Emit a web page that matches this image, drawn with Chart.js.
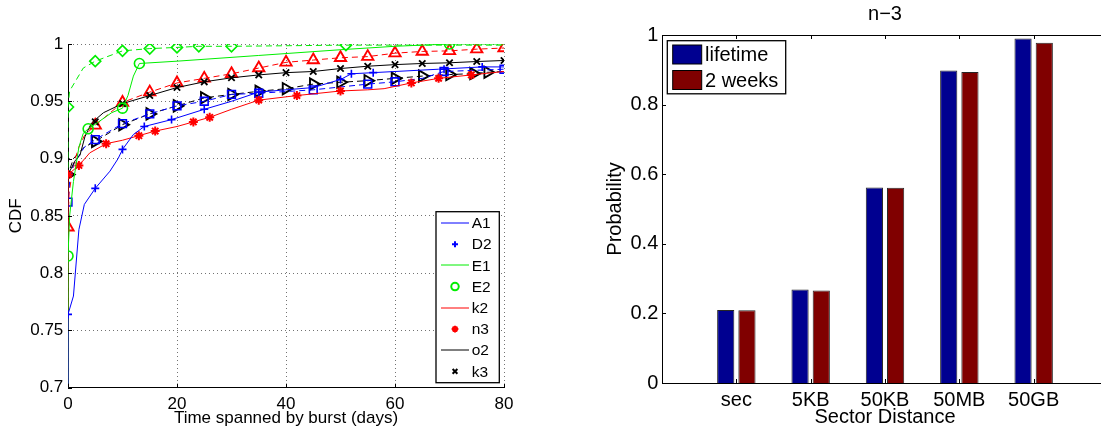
<!DOCTYPE html>
<html>
<head>
<meta charset="utf-8">
<script src="https://cdn.jsdelivr.net/npm/chart.js@4"></script>
<style>
html, body { margin: 0; padding: 0; background: #fff; overflow: hidden; width: 1101px; height: 429px; }
#left { position: absolute; left: 0; top: 0; width: 560px; height: 429px; }
#right { position: absolute; left: 590px; top: 0; width: 540px; height: 429px; }
</style>
</head>
<body>
<div id="left"><canvas id="cdf"></canvas></div>
<div id="right"><canvas id="bars"></canvas></div>
<script>
const FONT = "'Liberation Sans', Arial, sans-serif";

// ---- left panel: CDF of time spanned by burst ----
const xTicks = [0, 20, 40, 60, 80];
const xTickLabels = ['0', '20', '40', '60', '80'];
const yTicks = [0.7, 0.75, 0.8, 0.85, 0.9, 0.95, 1];
const yTickLabels = ['0.7', '0.75', '0.8', '0.85', '0.9', '0.95', '1'];

// A1 (blue solid) and its "+" marks (D2)
const a1X = [0, 0, 1, 2, 3, 5, 7.7, 9.2, 10, 12, 14, 19, 25, 30, 35, 45, 50, 52, 56, 68, 76, 80];
const a1Y = [0.7, 0.764, 0.78, 0.838, 0.86, 0.874, 0.889, 0.9, 0.908, 0.921, 0.928, 0.934, 0.943, 0.95, 0.958, 0.962, 0.969, 0.974, 0.975, 0.978, 0.98, 0.98];
const d2X = [0, 5, 10, 14, 19, 25, 35, 50, 52, 56, 69, 76];
const d2Y = [0.764, 0.874, 0.908, 0.928, 0.934, 0.943, 0.958, 0.969, 0.974, 0.975, 0.978, 0.98];

// E1 (green solid) and its circles (E2)
const e1X = [0, 0, 0.3, 1, 2, 2.8, 3.7, 5, 8, 10, 11, 12, 13.1, 20, 35, 50, 60, 70, 80];
const e1Y = [0.7, 0.815, 0.85, 0.88, 0.91, 0.922, 0.926, 0.93, 0.94, 0.944, 0.955, 0.972, 0.983, 0.985, 0.99, 0.995, 0.998, 1.0, 1.0];
const e2X = [0, 3.7, 10, 13.1, 70];
const e2Y = [0.815, 0.926, 0.944, 0.983, 1.0];

// k2 (red solid) and its asterisks (n3)
const k2X = [0, 0, 2, 4, 7, 10, 13, 16, 20, 23, 26, 30, 35, 42, 50, 55, 58, 63, 68, 74, 80];
const k2Y = [0.7, 0.886, 0.894, 0.905, 0.913, 0.916, 0.92, 0.924, 0.928, 0.932, 0.936, 0.943, 0.951, 0.955, 0.959, 0.96, 0.961, 0.966, 0.97, 0.973, 0.976];
const n3X = [0, 2, 7, 13, 16, 23, 26, 35, 42, 50, 63, 68, 74];
const n3Y = [0.886, 0.894, 0.913, 0.92, 0.924, 0.932, 0.936, 0.951, 0.955, 0.959, 0.966, 0.97, 0.973];

// o2 (black solid) and its x marks (k3)
const o2X = [0, 0, 1.3, 2.2, 3.1, 4.3, 6.5, 10, 15, 20, 25, 30, 35, 40, 45, 50, 55, 60, 65, 70, 75, 80];
const o2Y = [0.7, 0.886, 0.898, 0.903, 0.919, 0.931, 0.94, 0.948, 0.955, 0.962, 0.967, 0.9705, 0.973, 0.975, 0.976, 0.9786, 0.9806, 0.982, 0.983, 0.9836, 0.9847, 0.9856];
const k3X = [5, 10, 15, 20, 25, 30, 35, 40, 45, 50, 55, 60, 65, 70, 75, 80];
const k3Y = [0.932, 0.948, 0.955, 0.962, 0.967, 0.9705, 0.973, 0.975, 0.976, 0.9786, 0.9806, 0.982, 0.983, 0.9836, 0.9847, 0.9856];

// dashed curves (not in legend)
const blueDashX = [0, 0, 0.3, 1, 3, 5, 10, 15, 20, 25, 30, 35, 45, 55, 60, 65, 69, 80];
const blueDashY = [0.7, 0.862, 0.88, 0.895, 0.91, 0.9165, 0.9305, 0.939, 0.946, 0.95, 0.956, 0.957, 0.96, 0.965, 0.967, 0.97, 0.976, 0.978];
const blueSqX = [0, 5, 10, 15, 20, 25, 30, 35, 45, 55, 60, 69, 80];
const blueSqY = [0.862, 0.9165, 0.9305, 0.939, 0.946, 0.95, 0.956, 0.957, 0.96, 0.965, 0.967, 0.976, 0.978];

const greenDashX = [0, 0, 0.3, 1.3, 2.8, 5, 10, 15, 20, 24, 30, 51, 80];
const greenDashY = [0.7, 0.945, 0.959, 0.967, 0.979, 0.985, 0.994, 0.996, 0.997, 0.998, 0.998, 0.999, 0.999];
const greenDiaX = [0, 5, 10, 15, 20, 24, 30, 51];
const greenDiaY = [0.945, 0.985, 0.994, 0.996, 0.997, 0.998, 0.998, 0.999];

const redDashX = [0, 0, 0.2, 1, 2, 3, 5, 10, 15, 20, 25, 30, 35, 40, 45, 50, 55, 60, 65, 70, 75, 80];
const redDashY = [0.7, 0.84, 0.87, 0.895, 0.91, 0.92, 0.929, 0.949, 0.958, 0.966, 0.97, 0.974, 0.979, 0.984, 0.986, 0.988, 0.989, 0.992, 0.9935, 0.994, 0.9955, 0.9965];
const redTriX = [0, 5, 10, 15, 20, 25, 30, 35, 40, 45, 50, 55, 60, 65, 70, 75, 80];
const redTriY = [0.84, 0.929, 0.949, 0.958, 0.966, 0.97, 0.974, 0.979, 0.984, 0.986, 0.988, 0.989, 0.992, 0.9935, 0.994, 0.9955, 0.9965];

const blackDashX = [0, 0, 1, 3, 5, 10, 15, 20, 25, 30, 35, 40, 45, 50, 55, 60, 65, 70, 74.4, 77, 80];
const blackDashY = [0.7, 0.886, 0.9, 0.91, 0.915, 0.9296, 0.939, 0.946, 0.953, 0.956, 0.9587, 0.961, 0.965, 0.9666, 0.968, 0.97, 0.972, 0.9733, 0.9742, 0.9753, 0.976];
const blackTriX = [0, 5, 10, 15, 20, 25, 30, 35, 40, 45, 50, 55, 60, 65, 70, 74.4, 77];
const blackTriY = [0.886, 0.915, 0.9296, 0.939, 0.946, 0.953, 0.956, 0.9587, 0.961, 0.965, 0.9666, 0.968, 0.97, 0.972, 0.9733, 0.9742, 0.9753];

// ---- right panel: n-3 bars ----
const sizeTicks = [1, 2, 3, 4, 5];
const sizeLabels = ['sec', '5KB', '50KB', '50MB', '50GB'];
const probTicks = [0, 0.2, 0.4, 0.6, 0.8, 1];
const probLabels = ['0', '0.2', '0.4', '0.6', '0.8', '1'];
const lifetime = [0.21, 0.269, 0.562, 0.898, 0.99];
const twoWeeks = [0.209, 0.266, 0.561, 0.894, 0.978];

function pts(xs, ys) { return xs.map((x, i) => ({ x: x, y: ys[i] })); }

function curve(label, xs, ys, color, dash) {
  return { label: label, data: pts(xs, ys), showLine: true, borderColor: color, borderWidth: 1,
    borderDash: dash || [], pointRadius: 0, pointHoverRadius: 0, kind: 'line' };
}
function marks(label, xs, ys, color, style, r, bw, rot) {
  return { label: label, data: pts(xs, ys), showLine: false, pointStyle: style, pointRadius: r,
    pointHoverRadius: r, pointRotation: rot || 0, pointBorderColor: color, pointBackgroundColor: 'rgba(0,0,0,0)',
    pointBorderWidth: bw, borderColor: color, kind: 'point' };
}

// legend drawn in a box inside the plot area
const boxLegend = {
  id: 'boxLegend',
  afterDraw(chart, args, o) {
    const { ctx, chartArea: a } = chart;
    const h = o.rowH * o.items.length + o.padY * 2;
    const left = o.corner === 'br' ? a.right - o.dx - o.width : a.left + o.dx;
    const top = o.corner === 'br' ? a.bottom - o.dy - h : a.top + o.dy;
    ctx.save();
    ctx.fillStyle = '#fff';
    ctx.fillRect(left, top, o.width, h);
    ctx.strokeStyle = '#000';
    ctx.lineWidth = 1.3;
    ctx.strokeRect(left, top, o.width, h);
    ctx.font = o.fontSize + 'px ' + FONT;
    ctx.textBaseline = 'middle';
    o.items.forEach((idx, i) => {
      const ds = chart.data.datasets[idx];
      const cy = top + o.padY + o.rowH * (i + 0.5);
      if (ds.kind === 'bar') {
        ctx.fillStyle = ds.backgroundColor;
        ctx.fillRect(left + o.sx0, cy - o.sh / 2, o.sx1 - o.sx0, o.sh);
        ctx.lineWidth = 1;
        ctx.strokeStyle = '#000';
        ctx.strokeRect(left + o.sx0, cy - o.sh / 2, o.sx1 - o.sx0, o.sh);
      } else if (ds.kind === 'line') {
        ctx.strokeStyle = ds.borderColor;
        ctx.lineWidth = 1;
        ctx.setLineDash(ds.borderDash);
        ctx.beginPath();
        ctx.moveTo(left + o.sx0, Math.round(cy));
        ctx.lineTo(left + o.sx1, Math.round(cy));
        ctx.stroke();
        ctx.setLineDash([]);
      } else {
        ctx.strokeStyle = ds.pointBorderColor;
        ctx.fillStyle = 'rgba(0,0,0,0)';
        ctx.lineWidth = 2;
        Chart.helpers.drawPoint(ctx, { pointStyle: ds.pointStyle, rotation: ds.pointRotation,
          radius: ds.pointRadius * 0.75, borderWidth: 2 }, left + (o.sx0 + o.sx1) / 2, cy);
      }
      ctx.fillStyle = '#000';
      ctx.fillText(ds.label, left + o.tx, cy + 1);
    });
    ctx.restore();
  }
};

// inward tick marks, box sides on request
const frame = {
  id: 'frame',
  afterDatasetsDraw(chart, args, o) {
    const { ctx, chartArea: a } = chart;
    const x = chart.scales.x, y = chart.scales.y;
    ctx.save();
    ctx.strokeStyle = '#000';
    ctx.lineWidth = 1;
    ctx.beginPath();
    x.ticks.forEach(t => {
      const px = Math.round(x.getPixelForValue(t.value)) + 0.5;
      ctx.moveTo(px, a.bottom); ctx.lineTo(px, a.bottom - o.len);
      if (o.box) { ctx.moveTo(px, a.top); ctx.lineTo(px, a.top + o.len); }
    });
    y.ticks.forEach(t => {
      const py = Math.round(y.getPixelForValue(t.value)) + 0.5;
      ctx.moveTo(a.left, py); ctx.lineTo(a.left + o.len, py);
      if (o.box) { ctx.moveTo(a.right, py); ctx.lineTo(a.right - o.len, py); }
    });
    ctx.stroke();
    ctx.restore();
  }
};

Chart.defaults.font.family = FONT;
Chart.defaults.color = '#000';

new Chart(document.getElementById('cdf'), {
  type: 'scatter',
  data: {
    datasets: [
      curve('A1', a1X, a1Y, '#0000ff'),
      marks('D2', d2X, d2Y, '#0000ff', 'cross', 4, 1.6),
      curve('E1', e1X, e1Y, '#00ee00'),
      marks('E2', e2X, e2Y, '#00ee00', 'circle', 5, 1.6),
      curve('k2', k2X, k2Y, '#ff0000'),
      marks('n3', n3X, n3Y, '#ff0000', 'star', 4.5, 2),
      curve('o2', o2X, o2Y, '#000000'),
      marks('k3', k3X, k3Y, '#000000', 'crossRot', 4.5, 1.8),
      curve('', blueDashX, blueDashY, '#0000ff', [6, 4]),
      marks('', blueSqX, blueSqY, '#0000ff', 'rect', 5.5, 1.6),
      curve('', greenDashX, greenDashY, '#00ee00', [6, 4]),
      marks('', greenDiaX, greenDiaY, '#00ee00', 'rectRot', 5.5, 1.6),
      curve('', redDashX, redDashY, '#ff0000', [6, 4]),
      marks('', redTriX, redTriY, '#ff0000', 'triangle', 6.5, 1.9),
      curve('', blackDashX, blackDashY, '#000000', [6, 4]),
      marks('', blackTriX, blackTriY, '#000000', 'triangle', 6.5, 1.9, 90)
    ]
  },
  options: {
    responsive: true,
    maintainAspectRatio: false,
    animation: false,
    events: [],
    layout: { padding: { top: 44, right: 56, left: 0, bottom: 0 } },
    scales: {
      x: {
        type: 'linear', min: 0, max: 80,
        afterBuildTicks: s => { s.ticks = xTicks.map(v => ({ value: v })); },
        afterFit: s => { s.height = 41.3; },
        ticks: { callback: (v, i) => xTickLabels[i], font: { size: 17 }, color: '#000', padding: 6, maxRotation: 0 },
        grid: { color: 'rgba(0,0,0,0.55)', drawTicks: false },
        border: { color: '#000', width: 1, dash: [1, 3] },
        title: { display: true, text: 'Time spanned by burst (days)', font: { size: 17 }, color: '#000', padding: { top: 0, bottom: 0 } }
      },
      y: {
        type: 'linear', min: 0.7, max: 1,
        afterBuildTicks: s => { s.ticks = yTicks.map(v => ({ value: v })); },
        afterFit: s => { s.width = 68; },
        ticks: { callback: (v, i) => yTickLabels[i], font: { size: 17 }, color: '#000', padding: 4.7 },
        grid: { color: 'rgba(0,0,0,0.55)', drawTicks: false },
        border: { color: '#000', width: 1, dash: [1, 3] },
        title: { display: true, text: 'CDF', font: { size: 17 }, color: '#000', padding: { top: 6.5, bottom: 0 } }
      }
    },
    plugins: {
      legend: { display: false },
      tooltip: { enabled: false },
      frame: { len: 4, box: false },
      boxLegend: { items: [0, 1, 2, 3, 4, 5, 6, 7], corner: 'br', dx: 4.7, dy: 5, width: 63.3, rowH: 21.2, padY: 0.7,
        sx0: 5, sx1: 33, tx: 35.7, fontSize: 15.5 }
    }
  },
  plugins: [frame, boxLegend]
});

new Chart(document.getElementById('bars'), {
  type: 'bar',
  data: {
    datasets: [
      { label: 'lifetime', data: pts(sizeTicks, lifetime), backgroundColor: '#000090', borderColor: 'rgba(0,0,0,0.85)',
        borderWidth: 1, borderSkipped: 'start', categoryPercentage: 0.571, barPercentage: 0.81, kind: 'bar' },
      { label: '2 weeks', data: pts(sizeTicks, twoWeeks), backgroundColor: '#800000', borderColor: 'rgba(0,0,0,0.85)',
        borderWidth: 1, borderSkipped: 'start', categoryPercentage: 0.571, barPercentage: 0.81, kind: 'bar' }
    ]
  },
  options: {
    responsive: true,
    maintainAspectRatio: false,
    animation: false,
    events: [],
    layout: { padding: { top: 0, right: 22, left: 0, bottom: 0 } },
    scales: {
      x: {
        type: 'linear', min: 0, max: 6, offset: false,
        afterBuildTicks: s => { s.ticks = sizeTicks.map(v => ({ value: v })); },
        afterFit: s => { s.height = 46; },
        ticks: { callback: (v, i) => sizeLabels[i], font: { size: 20 }, color: '#000', padding: 5, maxRotation: 0 },
        grid: { display: false, drawTicks: false },
        border: { color: '#000', width: 1 },
        title: { display: true, text: 'Sector Distance', font: { size: 20 }, color: '#000', padding: { top: 0, bottom: 0 } }
      },
      x2: {
        type: 'linear', position: 'top', min: 0, max: 6, offset: false,
        afterFit: s => { s.height = 35; },
        ticks: { display: false },
        grid: { display: false, drawTicks: false },
        border: { color: '#000', width: 1 },
        title: { display: true, text: 'n\u22123', font: { size: 20 }, color: '#000', padding: { top: 2, bottom: 0 } }
      },
      y: {
        type: 'linear', min: 0, max: 1,
        afterBuildTicks: s => { s.ticks = probTicks.map(v => ({ value: v })); },
        afterFit: s => { s.width = 72; },
        ticks: { callback: (v, i) => probLabels[i], font: { size: 20 }, color: '#000', padding: 3.7 },
        grid: { display: false, drawTicks: false },
        border: { color: '#000', width: 1 },
        title: { display: true, text: 'Probability', font: { size: 20 }, color: '#000', padding: { top: 13, bottom: 0 } }
      }
    },
    plugins: {
      legend: { display: false },
      tooltip: { enabled: false },
      frame: { len: 4, box: true },
      boxLegend: { items: [0, 1], corner: 'tl', dx: 5.3, dy: 5.7, width: 118.4, rowH: 25.5, padY: 1.05,
        sx0: 5.4, sx1: 34.4, sh: 19, tx: 37.7, fontSize: 20 }
    }
  },
  plugins: [frame, boxLegend]
});
</script>
</body>
</html>
